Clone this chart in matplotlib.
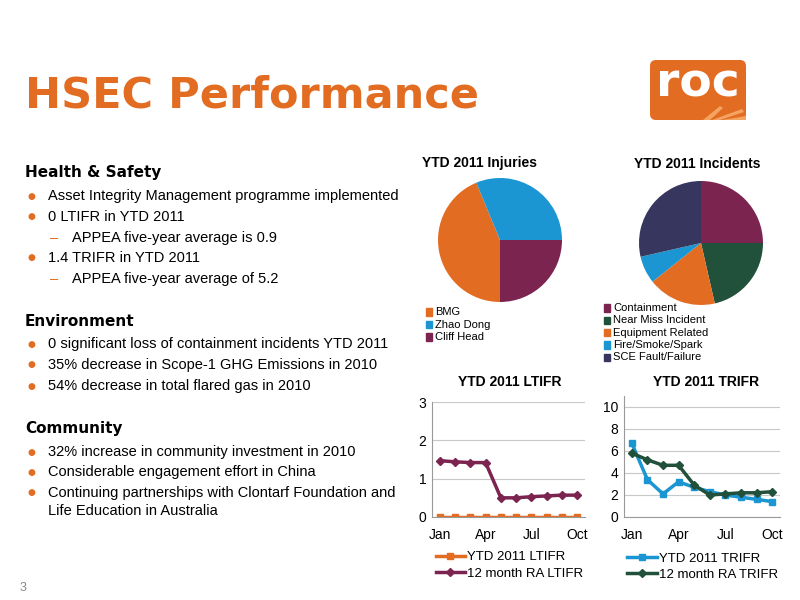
import matplotlib
matplotlib.use("Agg")
import matplotlib.pyplot as plt
from matplotlib.patches import FancyBboxPatch, Polygon

months = ["Jan","Feb","Mar","Apr","May","Jun","Jul","Aug","Sep","Oct"]
ltifr_ytd = [0,0,0,0,0,0,0,0,0,0]
ltifr_ra = [1.47,1.44,1.42,1.42,0.50,0.50,0.53,0.55,0.57,0.57]
trifr_ytd = [6.7,3.4,2.1,3.2,2.7,2.3,2.0,1.8,1.6,1.4]
trifr_ra = [5.8,5.2,4.7,4.7,2.9,2.0,2.1,2.2,2.2,2.3]
inj_labels = ["BMG","Zhao Dong","Cliff Head"]
inj_values = [7,5,4]
inc_labels = ["Containment","Near Miss Incident","Equipment Related","Fire/Smoke/Spark","SCE Fault/Failure"]
inc_values = [7,6,5,2,8]

ORANGE = "#E36C23"
plt.rcParams['font.family'] = ['Liberation Sans', 'DejaVu Sans']
fig = plt.figure(figsize=(8,6), dpi=100)
fig.patch.set_facecolor("white")

def fx(x): return x/800
def fy(y): return 1 - y/600

fig.text(fx(25), fy(95), "HSEC Performance", color=ORANGE, fontsize=31, fontweight="bold",
         family=['DejaVu Sans'], va="center")
fig.text(fx(20), fy(588), "3", color="#888888", fontsize=9, va="center")

# logo
lax = fig.add_axes([fx(648), fy(122), fx(100), 64/600])
lax.set_xlim(0,100); lax.set_ylim(0,64); lax.axis("off")
lax.add_patch(FancyBboxPatch((2,2),96,60, boxstyle="round,pad=0,rounding_size=6", fc=ORANGE, ec="none"))
lax.text(50,38,"roc", color="white", fontsize=34, fontweight="bold", ha="center", va="center", family=['DejaVu Sans'])
for pts in [[(55,2),(62,2),(75,14),(72,16)],[(64,2),(72,2),(96,10),(94,13)],[(74,2),(98,2),(98,6)]]:
    lax.add_patch(Polygon(pts, fc="#F4A460", ec="none"))

# text block
lines = [
    (172, "h", "Health & Safety"),
    (196, "b", "Asset Integrity Management programme implemented"),
    (217, "b", "0 LTIFR in YTD 2011"),
    (238, "d", "APPEA five-year average is 0.9"),
    (258, "b", "1.4 TRIFR in YTD 2011"),
    (279, "d", "APPEA five-year average of 5.2"),
    (322, "h", "Environment"),
    (344, "b", "0 significant loss of containment incidents YTD 2011"),
    (365, "b", "35% decrease in Scope-1 GHG Emissions in 2010"),
    (386, "b", "54% decrease in total flared gas in 2010"),
    (429, "h", "Community"),
    (452, "b", "32% increase in community investment in 2010"),
    (472, "b", "Considerable engagement effort in China"),
    (493, "b", "Continuing partnerships with Clontarf Foundation and"),
    (511, "c", "Life Education in Australia"),
]
for y, kind, t in lines:
    if kind == "h":
        fig.text(fx(25), fy(y), t, fontsize=11, fontweight="bold", family=['DejaVu Sans'], va="center")
    elif kind == "b":
        fig.text(fx(27), fy(y), "●", fontsize=6.5, color=ORANGE, va="center", family=['DejaVu Sans'])
        fig.text(fx(48), fy(y), t, fontsize=10.5, va="center")
    elif kind == "d":
        fig.text(fx(50), fy(y), "–", fontsize=10.5, color=ORANGE, va="center")
        fig.text(fx(72), fy(y), t, fontsize=10.5, va="center")
    else:
        fig.text(fx(48), fy(y), t, fontsize=10.5, va="center")

# pies
inj_colors = [ORANGE, "#1B96D2", "#7C2450"]
inc_colors = ["#7C2450", "#21503B", ORANGE, "#1B96D2", "#36365E"]
ax1 = fig.add_axes([fx(438), fy(302), fx(124), 124/600])
ax1.pie(inj_values, colors=inj_colors, startangle=-90, counterclock=False)
ax1.set_xlim(-1,1); ax1.set_ylim(-1,1); ax1.set_aspect("equal")
fig.text(fx(480), fy(163), "YTD 2011 Injuries", fontsize=10, fontweight="bold", ha="center", va="center")
ax2 = fig.add_axes([fx(639), fy(305), fx(124), 124/600])
ax2.pie(inc_values, colors=inc_colors, startangle=90, counterclock=False)
ax2.set_xlim(-1,1); ax2.set_ylim(-1,1); ax2.set_aspect("equal")
fig.text(fx(697), fy(164), "YTD 2011 Incidents", fontsize=10, fontweight="bold", ha="center", va="center")

def sq_legend(x, y0, labels, colors, dy):
    for i, (l, c) in enumerate(zip(labels, colors)):
        y = y0 + i*dy
        fig.patches.append(plt.Rectangle((fx(x), fy(y)-0.006), fx(6), 0.012, color=c, transform=fig.transFigure))
        fig.text(fx(x+9), fy(y), l, fontsize=8, va="center")
sq_legend(426, 312, inj_labels, inj_colors, 12.5)
sq_legend(604, 308, inc_labels, inc_colors, 12.3)

x = list(range(len(months)))
def line_ax(rect, series, ylim, yticks, title, tx):
    ax = fig.add_axes(rect)
    for vals, col, mk, lab in series:
        ax.plot(x, vals, color=col, marker=mk, lw=2.5, ms=4.5, label=lab)
    ax.set_xlim(-0.5, 9.5); ax.set_ylim(*ylim); ax.set_yticks(yticks)
    ax.set_xticks([0,3,6,9]); ax.set_xticklabels(["Jan","Apr","Jul","Oct"])
    ax.grid(axis="y", color="#c8c8c8", lw=0.8); ax.set_axisbelow(True)
    for s in ["top","right"]: ax.spines[s].set_visible(False)
    for s in ["left","bottom"]: ax.spines[s].set_color("#999999")
    ax.tick_params(length=0, labelsize=10, pad=8)
    ax.tick_params(axis="y", pad=4)
    fig.text(tx, fy(382), title, fontsize=10, fontweight="bold", ha="center", va="center")
    ax.legend(loc="upper left", bbox_to_anchor=(-0.02, -0.24), frameon=False, fontsize=9.5,
              handlelength=2.2, labelspacing=0.3, borderpad=0, handletextpad=0.2)
    return ax

line_ax([fx(432), fy(517), fx(153), 115/600],
        [(ltifr_ytd, ORANGE, "s", "YTD 2011 LTIFR"), (ltifr_ra, "#7C2450", "D", "12 month RA LTIFR")],
        (0,3), [0,1,2,3], "YTD 2011 LTIFR", fx(510))
line_ax([fx(624), fy(517), fx(156), 121/600],
        [(trifr_ytd, "#1B96D2", "s", "YTD 2011 TRIFR"), (trifr_ra, "#21503B", "D", "12 month RA TRIFR")],
        (0,11), [0,2,4,6,8,10], "YTD 2011 TRIFR", fx(706))

fig.savefig("out.png", dpi=100, facecolor="white")
